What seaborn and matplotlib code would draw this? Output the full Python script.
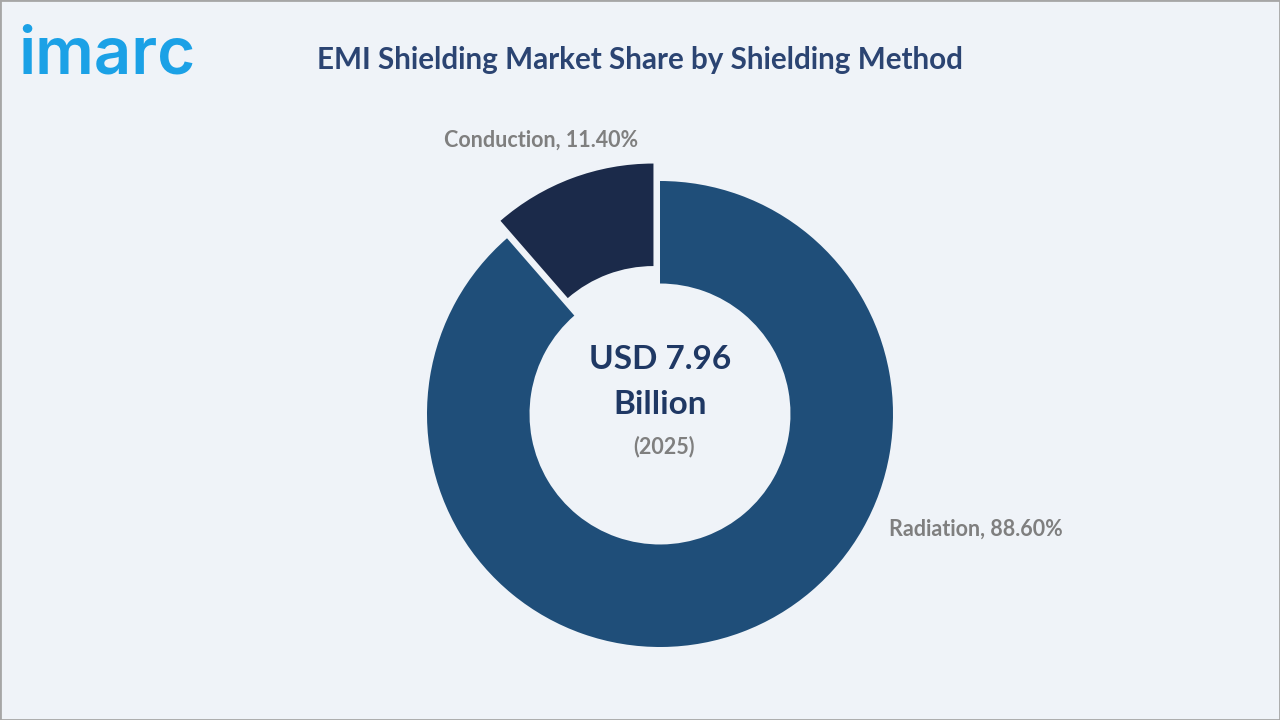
import matplotlib
matplotlib.use("Agg")
import matplotlib.pyplot as plt
import seaborn as sns
from matplotlib.patches import Rectangle

# data
methods = ["Radiation", "Conduction"]
shares = [88.60, 11.40]
market_value = "USD 7.96\nBillion"
market_year = "(2025)"
title = "EMI Shielding Market Share by Shielding Method"

sns.set_theme(style="white")
plt.rcParams["font.family"] = ["Lato", "DejaVu Sans"]

bg = "#EFF3F8"
slice_colors = ["#1F4E79", "#1B2A4A"]
label_color = "#7F7F7F"
navy = "#1F3864"

fig = plt.figure(figsize=(12.8, 7.2), dpi=100, facecolor=bg)

# pie axes: 600x600 px box centred on (660, 414) px
ax = fig.add_axes([360 / 1280, 6 / 720, 600 / 1280, 600 / 720])
ax.set_facecolor(bg)
wedges, _ = ax.pie(
    shares,
    colors=slice_colors,
    startangle=90,
    counterclock=False,
    explode=[0, 0.08],
    radius=1,
    wedgeprops=dict(width=0.44, linewidth=0),
)
lim = 300 / 233
ax.set_xlim(-lim, lim)
ax.set_ylim(-lim, lim)
ax.set_aspect("equal")
ax.axis("off")

# slice labels
fig.text(541 / 1280, 1 - 140 / 720, f"{methods[1]}, {shares[1]:.2f}%",
         ha="center", va="center", fontsize=15.5, fontweight="bold", color=label_color)
fig.text(976 / 1280, 1 - 529 / 720, f"{methods[0]}, {shares[0]:.2f}%",
         ha="center", va="center", fontsize=15.5, fontweight="bold", color=label_color)

# centre text
fig.text(660 / 1280, 1 - 382 / 720, market_value, ha="center", va="center",
         fontsize=24, fontweight="bold", color=navy, linespacing=1.7)
fig.text(664 / 1280, 1 - 447 / 720, market_year, ha="center", va="center",
         fontsize=15.5, fontweight="bold", color=label_color)

# title and logo
fig.text(640 / 1280, 1 - 60 / 720, title, ha="center", va="center",
         fontsize=21.3, fontweight="bold", color="#2B4472")
fig.text(18 / 1280, 1 - 57 / 720, "imarc", ha="left", va="center",
         fontsize=47, fontweight="semibold", color="#1BA1E6",
         family=["Inter", "DejaVu Sans"])

# thin frame around the picture
fig.patches.append(Rectangle((0, 0), 1, 1, transform=fig.transFigure,
                             fill=False, edgecolor="#A6A6A6", linewidth=2))

fig.savefig("out.png", dpi=100, facecolor=bg)
